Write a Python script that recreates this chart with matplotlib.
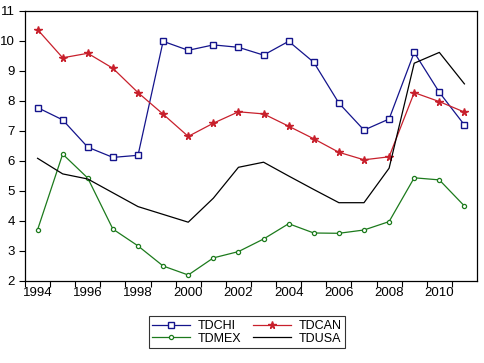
import matplotlib
matplotlib.use("Agg")
import matplotlib.pyplot as plt
import numpy as np

plt.rcParams['font.family'] = ['Liberation Sans', 'DejaVu Sans']

years = np.arange(1994, 2012)
tdchi = [7.78, 7.37, 6.46, 6.12, 6.19, 9.99, 9.69, 9.87, 9.79, 9.53,
         9.99, 9.29, 7.93, 7.03, 7.40, 9.62, 8.29, 7.20]
tdcan = [10.38, 9.44, 9.59, 9.09, 8.28, 7.56, 6.82, 7.26, 7.64, 7.57,
         7.16, 6.74, 6.29, 6.04, 6.14, 8.28, 7.98, 7.63]
tdmex = [3.71, 6.23, 5.43, 3.73, 3.17, 2.50, 2.20, 2.77, 2.98, 3.40,
         3.91, 3.60, 3.59, 3.70, 3.98, 5.44, 5.37, 4.50]
tdusa = [6.09, 5.57, 5.40, 4.94, 4.48, 4.22, 3.96, 4.76, 5.79, 5.96,
         5.50, 5.05, 4.61, 4.61, 5.76, 9.26, 9.62, 8.57]
label_years = [1994, 1996, 1998, 2000, 2002, 2004, 2006, 2008, 2010]

fig = plt.figure(figsize=(4.84, 3.63), dpi=100)
ax = fig.add_axes([0.0517, 0.2259, 0.9338, 0.7438])

# points sit in the middle of each year
x = years + 0.5
l1, = ax.plot(x, tdchi, color='#14148c', lw=0.9, marker='s', ms=4.5,
              mfc='white', mec='#14148c', mew=1.0, label='TDCHI')
l2, = ax.plot(x, tdcan, color='#c8202c', lw=0.9, marker='*', ms=5.5,
              mfc='#c8202c', mec='#c8202c', label='TDCAN')
l3, = ax.plot(x, tdmex, color='#1c7a1c', lw=0.9, marker='o', ms=3,
              mfc='white', mec='#1c7a1c', mew=0.9, label='TDMEX')
l4, = ax.plot(x, tdusa, color='black', lw=0.9, label='TDUSA')

ax.set_xlim(1994, 2012)
ax.set_ylim(2, 11)
ax.set_yticks(range(2, 12))
ax.set_xticks(range(1994, 2012))
ax.set_xticklabels([])
ax.set_xticks([y + 0.5 for y in label_years], minor=True)
ax.set_xticklabels([str(y) for y in label_years], minor=True)
ax.tick_params(axis='x', which='major', direction='out', length=4, width=0.8)
ax.tick_params(axis='x', which='minor', length=0, pad=4, labelsize=9.5)
ax.tick_params(axis='y', direction='out', length=4, width=0.8, labelsize=9.5)
for s in ax.spines.values():
    s.set_linewidth(0.9)

# legend rows: TDCHI TDCAN / TDMEX TDUSA (matplotlib fills by column)
leg = fig.legend([l1, l3, l2, l4], ['TDCHI', 'TDMEX', 'TDCAN', 'TDUSA'],
                 loc='upper center', bbox_to_anchor=(0.51, 0.146), ncol=2,
                 fontsize=9, frameon=True, fancybox=False, edgecolor='black',
                 handlelength=3.0, columnspacing=1.0, labelspacing=0.05,
                 borderpad=0.3, handletextpad=0.6)
leg.get_frame().set_linewidth(0.8)

fig.savefig('out.png', dpi=100)
